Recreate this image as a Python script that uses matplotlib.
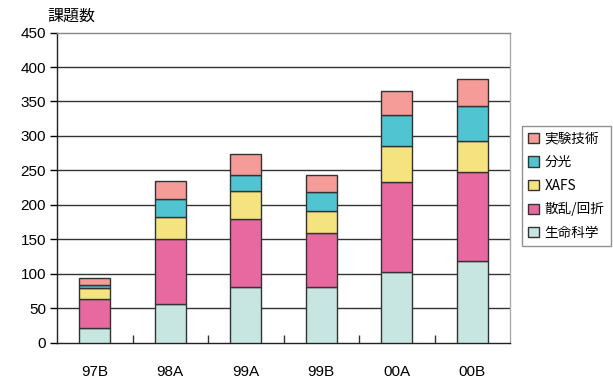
import numpy as np
import matplotlib
matplotlib.use('Agg')
import matplotlib.pyplot as plt

plt.rcParams['font.family'] = ['Liberation Sans', 'Noto Sans CJK JP', 'DejaVu Sans']

# data (segment heights, bottom to top)
periods = ['97B', '98A', '99A', '99B', '00A', '00B']
life_science = [22, 56, 81, 81, 102, 118]
scattering = [41, 95, 98, 78, 131, 130]
xafs = [16, 32, 41, 32, 52, 44]
spectroscopy = [5, 26, 24, 27, 45, 52]
technique = [10, 25, 30, 25, 35, 38]

series_names = ['生命科学', '散乱/回折', 'XAFS', '分光', '実験技術']
series_colors = ['#c8e6e1', '#e8699f', '#f5e37f', '#50c4d0', '#f59b98']
y_ticks = [0, 50, 100, 150, 200, 250, 300, 350, 400, 450]

fig = plt.figure(figsize=(6.13, 3.83), dpi=100)
ax = fig.add_axes([0.093, 0.105, 0.739, 0.81])

x = np.arange(len(periods))
bottom = np.zeros(len(periods))
handles = []
for vals, name, col in zip([life_science, scattering, xafs, spectroscopy, technique],
                           series_names, series_colors):
    b = ax.bar(x, vals, width=0.405, bottom=bottom, color=col, edgecolor='#333333',
               linewidth=1.0, label=name, zorder=3)
    handles.append(b)
    bottom += np.array(vals)

# horizontal grid lines
for yv in y_ticks[1:-1]:
    ax.axhline(yv, color='#333333', linewidth=1.0, zorder=1)

ax.set_xlim(-0.5, len(periods) - 0.5)
ax.set_ylim(0, 450)
ax.set_yticks(y_ticks)
ax.tick_params(axis='y', direction='out', length=5, width=1, labelsize=11, pad=3)

# x labels at category centers, no tick marks; small inward ticks between categories
ax.set_xticks(x)
ax.set_xticklabels(periods)
ax.tick_params(axis='x', length=0, labelsize=11, pad=16)
ax.set_xticks(np.arange(0.5, len(periods) - 0.5, 1.0), minor=True)
ax.tick_params(axis='x', which='minor', direction='in', length=6, width=1, color='#333333')

ax.spines['left'].set_color('#222222')
ax.spines['bottom'].set_color('#222222')
ax.spines['top'].set_color('#888888')
ax.spines['right'].set_color('#aaaaaa')
for s in ax.spines.values():
    s.set_linewidth(1.0)

fig.text(0.078, 0.958, '課題数', fontsize=11.5, ha='left', va='center',
         family=['Noto Sans CJK JP', 'DejaVu Sans'])

leg = fig.legend(handles[::-1], series_names[::-1], loc='upper left',
                 bbox_to_anchor=(0.852, 0.672), frameon=True, fancybox=False,
                 edgecolor='#777777', handlelength=0.8, handleheight=0.8,
                 handletextpad=0.4, labelspacing=0.7, borderpad=0.45, borderaxespad=0,
                 prop={'family': ['Noto Sans CJK JP', 'DejaVu Sans'], 'size': 9.8})
leg.get_frame().set_linewidth(1.0)

fig.savefig('out.png', dpi=100)
